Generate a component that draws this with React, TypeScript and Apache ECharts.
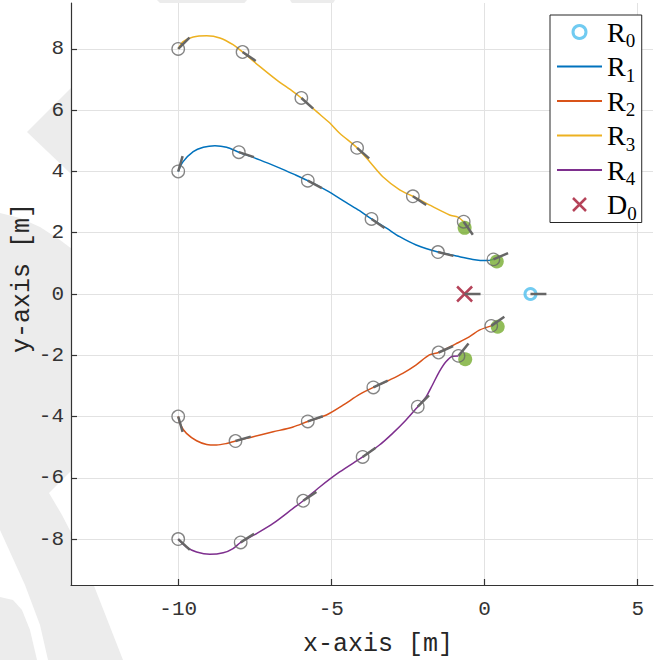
import React, { useEffect, useRef } from 'react';
import * as echarts from 'echarts';

// ---- data ----
const xTicks = [-10, -5, 0, 5];
const yTicks = [-8, -6, -4, -2, 0, 2, 4, 6, 8];

const r1Path = [[-10, 4], [-9.84, 4.32], [-9.51, 4.65], [-9.18, 4.79], [-8.8, 4.84], [-8.42, 4.79], [-8.02, 4.63], [-7.34, 4.38], [-6.68, 4.11], [-6.25, 3.92], [-5.77, 3.7], [-5.16, 3.38], [-4.51, 2.98], [-4.08, 2.72], [-3.69, 2.45], [-3.2, 2.15], [-2.77, 1.87], [-2.23, 1.6], [-1.52, 1.37], [-0.92, 1.24], [-0.38, 1.13], [0.06, 1.09], [0.29, 1.13]];
const r2Path = [[-10, -4], [-9.92, -4.28], [-9.73, -4.55], [-9.4, -4.79], [-9.07, -4.91], [-8.75, -4.93], [-8.42, -4.88], [-8.13, -4.8], [-7.55, -4.66], [-6.9, -4.5], [-6.25, -4.34], [-5.77, -4.16], [-5.16, -3.95], [-4.62, -3.63], [-4.08, -3.28], [-3.63, -3.05], [-3.11, -2.81], [-2.67, -2.59], [-2.24, -2.32], [-1.8, -1.99], [-1.5, -1.91], [-0.94, -1.63], [-0.5, -1.4], [-0.17, -1.18], [0.22, -1.04]];
const r3Path = [[-10, 8], [-9.84, 8.24], [-9.51, 8.39], [-9.07, 8.43], [-8.64, 8.36], [-8.21, 8.14], [-7.9, 7.9], [-7.34, 7.43], [-6.79, 6.99], [-6.25, 6.61], [-5.98, 6.4], [-5.49, 5.96], [-5.05, 5.58], [-4.73, 5.25], [-4.16, 4.77], [-3.75, 4.32], [-3.32, 3.83], [-2.77, 3.4], [-2.34, 3.19], [-1.69, 2.85], [-1.14, 2.58], [-0.87, 2.51], [-0.68, 2.36]];
const r4Path = [[-10, -8], [-9.73, -8.26], [-9.4, -8.42], [-8.97, -8.5], [-8.53, -8.45], [-8.21, -8.31], [-7.96, -8.11], [-7.44, -7.82], [-6.9, -7.49], [-6.25, -7.0], [-5.92, -6.75], [-5.38, -6.3], [-4.73, -5.81], [-3.98, -5.32], [-3.43, -4.93], [-3.0, -4.55], [-2.57, -4.12], [-2.18, -3.68], [-1.91, -3.36], [-1.7, -2.97], [-1.48, -2.54], [-1.26, -2.21], [-1.04, -2.03], [-0.85, -2.02]];

// sampled poses: [x, y, heading in degrees]
const r1Samples = [[-10, 4, 74], [-8.02, 4.63, -18], [-5.77, 3.7, -28], [-3.69, 2.45, -35], [-1.52, 1.37, -14], [0.29, 1.13, 23]];
const r2Samples = [[-10, -4, -74], [-8.13, -4.8, 16], [-5.77, -4.16, 19], [-3.63, -3.05, 25], [-1.5, -1.91, 24], [0.22, -1.04, 35]];
const r3Samples = [[-10, 8, 45], [-7.9, 7.9, -34], [-5.98, 6.4, -42], [-4.16, 4.77, -41], [-2.34, 3.19, -33], [-0.68, 2.36, -55]];
const r4Samples = [[-10, -8, -43], [-7.96, -8.11, 33], [-5.92, -6.75, 34], [-3.98, -5.32, 35], [-2.18, -3.68, 45], [-0.85, -2.02, 51]];

const endPoints = [[0.4, 1.06], [0.43, -1.07], [-0.65, 2.16], [-0.63, -2.13]];
const r0Pose = [[1.5, 0, 0]];
const d0Pose = [[-0.65, 0, 0]];

const HEADING_LEN = 0.52;

const C = {
  r0: '#4DBEEE', r1: '#0072BD', r2: '#D95319', r3: '#EDB120', r4: '#7E2F8E',
  d0: '#A2142F', green: '#77AC30', gray: '#666666', axis: '#333333', grid: '#e2e2e2', mark: '#ececec',
};

const X_PATH = 'path://M0,0L10,10M10,0L0,10';
const MONO = 'Liberation Mono';
const SERIF = 'Liberation Serif';

function buildOption(): any {
  const samples = [...r1Samples, ...r2Samples, ...r3Samples, ...r4Samples];
  const headings = [...samples, ...r0Pose, ...d0Pose];
  const lineSeries = (name: string, data: number[][], color: string) => ({
    name, type: 'line', data, symbol: 'none', showSymbol: false, smooth: 0.3, z: 2,
    lineStyle: { color, width: 1.5 }, itemStyle: { color }, silent: true,
  });
  const lineLegend = (name: string) => ({ name, itemStyle: { opacity: 0 }, lineStyle: { width: 2 } });
  return {
    animation: false,
    graphic: [
      { type: 'polygon', z: -20, silent: true, shape: { points: [[157, 0], [247, 0], [240, 8], [165, 8]] }, style: { fill: C.mark } },
      { type: 'polygon', z: -20, silent: true, shape: { points: [[290, 0], [335, 0], [330, 8], [295, 8]] }, style: { fill: C.mark } },
      { type: 'polygon', z: -20, silent: true, shape: { points: [[27, 132], [90, 69], [90, 192]] }, style: { fill: C.mark } },
      { type: 'polygon', z: -20, silent: true, shape: { points: [[0, 213], [20, 218], [40, 227], [60, 240], [80, 255], [80, 462], [49, 493], [62, 515], [80, 550], [123, 660], [48, 660], [40, 625], [25, 585], [0, 530]] }, style: { fill: C.mark } },
      { type: 'polygon', z: -20, silent: true, shape: { points: [[0, 597], [13, 600], [22, 610], [30, 630], [37, 660], [0, 660]] }, style: { fill: C.mark } },
      { type: 'rect', z: -10, silent: true, shape: { x: 71, y: 3, width: 582, height: 582 }, style: { fill: '#ffffff' } },
    ],
    grid: { left: 71, right: 13, top: 3, bottom: 75, containLabel: false, outerBoundsMode: 'none' },
    legend: {
      data: [
        { name: 'R0', icon: 'circle', itemStyle: { color: 'rgba(0,0,0,0)', borderColor: C.r0, borderWidth: 3 } },
        lineLegend('R1'), lineLegend('R2'), lineLegend('R3'), lineLegend('R4'),
        { name: 'D0', icon: X_PATH, itemStyle: { color: C.d0, borderColor: C.d0, borderWidth: 2.5 } },
      ],
      orient: 'vertical', left: 550, top: 15, itemWidth: 45, itemHeight: 13, itemGap: 2.5,
      padding: [3, 5, 0, 6], backgroundColor: '#ffffff', borderColor: '#262626', borderWidth: 1,
      selectedMode: false,
      formatter: (name: string) => `{r|${name.slice(0, 1)}}{s|${name.slice(1)}}`,
      textStyle: {
        fontFamily: SERIF, color: '#000',
        rich: {
          r: { fontFamily: SERIF, fontSize: 28, lineHeight: 36, verticalAlign: 'middle', color: '#000' },
          s: { fontFamily: SERIF, fontSize: 19, verticalAlign: 'bottom', color: '#000' },
        },
      },
    },
    xAxis: {
      type: 'value', min: -13.5, max: 5.5,
      name: 'x-axis [m]', nameLocation: 'middle', nameGap: 47, nameMoveOverlap: false,
      nameTextStyle: { fontFamily: MONO, fontSize: 25, color: '#262626', padding: [0, 0, 0, 32] },
      axisLine: { show: true, onZero: false, lineStyle: { color: C.axis, width: 1.2 } },
      axisTick: { show: true, inside: true, length: 6, customValues: xTicks, lineStyle: { color: C.axis, width: 1.2 } },
      axisLabel: { customValues: xTicks, fontFamily: MONO, fontSize: 21, color: '#333', margin: 14 },
      splitLine: { show: true, lineStyle: { color: C.grid, width: 1 } },
    },
    yAxis: {
      type: 'value', min: -9.5, max: 9.5,
      name: 'y-axis [m]', nameLocation: 'middle', nameGap: 36, nameMoveOverlap: false,
      nameTextStyle: { fontFamily: MONO, fontSize: 25, color: '#262626', padding: [0, 0, 0, 32] },
      axisLine: { show: true, onZero: false, lineStyle: { color: C.axis, width: 1.2 } },
      axisTick: { show: true, inside: true, length: 6, customValues: yTicks, lineStyle: { color: C.axis, width: 1.2 } },
      axisLabel: { customValues: yTicks, fontFamily: MONO, fontSize: 21, color: '#333', margin: 7 },
      splitLine: { show: true, lineStyle: { color: C.grid, width: 1 } },
    },
    series: [
      {
        name: 'R0', type: 'scatter', data: r0Pose.map((p) => [p[0], p[1]]), symbol: 'circle', symbolSize: 11, z: 6, silent: true,
        itemStyle: { color: 'rgba(0,0,0,0)', borderColor: C.r0, borderWidth: 3 },
      },
      lineSeries('R1', r1Path, C.r1),
      lineSeries('R2', r2Path, C.r2),
      lineSeries('R3', r3Path, C.r3),
      lineSeries('R4', r4Path, C.r4),
      {
        name: 'D0', type: 'scatter', data: d0Pose.map((p) => [p[0], p[1]]), symbol: X_PATH, symbolSize: 15, z: 6, silent: true,
        itemStyle: { color: C.d0, borderColor: C.d0, borderWidth: 2.5 },
      },
      {
        name: 'ends', type: 'scatter', data: endPoints, symbol: 'circle', symbolSize: 14, z: 3, silent: true,
        itemStyle: { color: C.green },
      },
      {
        name: 'samples', type: 'scatter', data: samples.map((p) => [p[0], p[1]]), symbol: 'circle', symbolSize: 12.5, z: 4, silent: true,
        itemStyle: { color: 'rgba(0,0,0,0)', borderColor: C.gray, borderWidth: 1.3 },
      },
      {
        name: 'headings', type: 'custom', data: headings, z: 7, silent: true,
        dimensions: ['x', 'y', 'deg'], encode: { x: 0, y: 1 },
        renderItem: (_params: any, api: any) => {
          const x = api.value(0);
          const y = api.value(1);
          const a = (api.value(2) * Math.PI) / 180;
          const p0 = api.coord([x, y]);
          const p1 = api.coord([x + HEADING_LEN * Math.cos(a), y + HEADING_LEN * Math.sin(a)]);
          return {
            type: 'line',
            shape: { x1: p0[0], y1: p0[1], x2: p1[0], y2: p1[1] },
            style: { stroke: C.gray, lineWidth: 2.5 },
          };
        },
      },
    ],
  };
}

export default function App() {
  const ref = useRef<HTMLDivElement>(null);
  useEffect(() => {
    if (!ref.current) return;
    const chart = echarts.init(ref.current, null, { renderer: 'svg' });
    chart.setOption(buildOption());
    return () => chart.dispose();
  }, []);
  return <div ref={ref} style={{ position: 'fixed', left: 0, top: 0, width: 666, height: 660, background: '#fff' }} />;
}
